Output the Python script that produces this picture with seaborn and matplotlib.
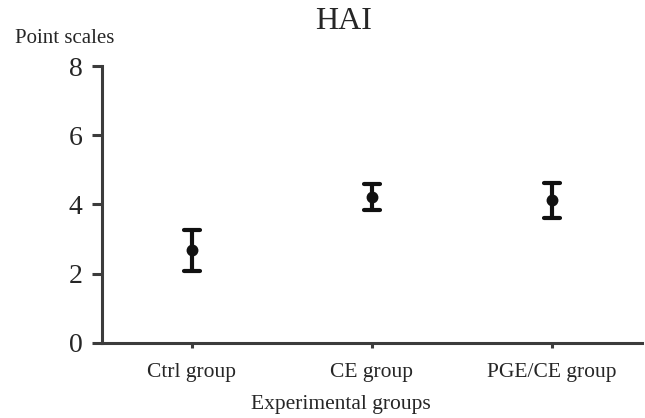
import numpy as np
import pandas as pd
import matplotlib
matplotlib.use('Agg')
import matplotlib.pyplot as plt
import seaborn as sns

# Data (mean and error half-width)
groups = ['Ctrl group', 'CE group', 'PGE/CE group']
means = [2.67, 4.21, 4.12]
errs = [0.60, 0.37, 0.50]

# Build a tiny table: low / mean / high for each group so seaborn can draw mean with min-max bars
rows = []
for g, m, e in zip(groups, means, errs):
    for v in (m - e, m, m + e):
        rows.append({'group': g, 'score': v})
df = pd.DataFrame(rows)

sns.set_style('white')
plt.rcParams['font.family'] = ['Liberation Serif', 'DejaVu Serif']

fig = plt.figure(figsize=(6.45, 4.18), dpi=100)
ax = fig.add_axes([0.158, 0.18, 0.837, 0.662])

sns.pointplot(data=df, x='group', y='score', order=groups,
              estimator='mean', errorbar=lambda x: (x.min(), x.max()),
              linestyle='none', color='#111111', capsize=0.09,
              err_kws={'linewidth': 3}, markersize=6.5, ax=ax)

ax.set_ylim(0, 8)
ax.set_xlim(-0.5, 2.5)
ax.set_yticks([0, 2, 4, 6, 8])

spine_col = '#3c3c3c'
for s in ['top', 'right']:
    ax.spines[s].set_visible(False)
for s in ['left', 'bottom']:
    ax.spines[s].set_color(spine_col)
    ax.spines[s].set_linewidth(2.2)

ax.tick_params(axis='y', length=7, width=2.2, color=spine_col, pad=7, labelsize=20, left=True)
ax.tick_params(axis='x', length=3.5, width=2.2, color=spine_col, pad=11, labelsize=15.5, bottom=True)

ax.set_ylabel('')
ax.set_xlabel('Experimental groups', fontsize=15.5)
ax.xaxis.set_label_coords(0.443, -0.19)

fig.text(0.532, 1 - 29 / 418, 'HAI', ha='center', va='baseline', fontsize=23)
fig.text(0.023, 1 - 43 / 418, 'Point scales', ha='left', va='baseline', fontsize=15)

fig.savefig('out.png', dpi=100)
